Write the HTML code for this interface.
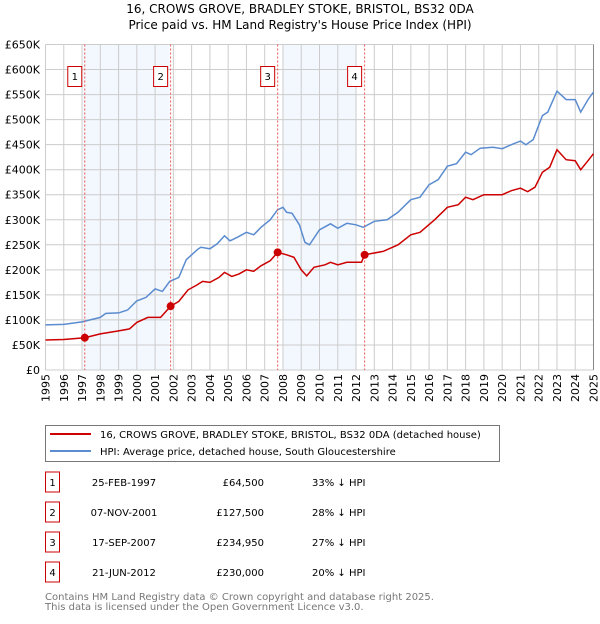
<!DOCTYPE html>
<html><head><meta charset="utf-8"><style>
body{margin:0;background:#fff;width:600px;height:620px;overflow:hidden;font-family:"DejaVu Sans","Liberation Sans",sans-serif;}
svg text{font-family:"DejaVu Sans","Liberation Sans",sans-serif;}
</style></head><body>
<svg id="c" width="600" height="620" xmlns="http://www.w3.org/2000/svg">
<text x="300" y="13" text-anchor="middle" font-size="12">16, CROWS GROVE, BRADLEY STOKE, BRISTOL, BS32 0DA</text>
<text x="300" y="29" text-anchor="middle" font-size="12">Price paid vs. HM Land Registry's House Price Index (HPI)</text>
<g id="shade"></g><g id="grid"></g><g id="axes"></g><g id="lines"></g><g id="marks"></g>
<g>
<rect x="45.5" y="425.5" width="454" height="36" fill="#fff" stroke="#777"/>
<line x1="50" y1="434" x2="91" y2="434" stroke="#cc0000" stroke-width="2"/>
<text x="100" y="438" font-size="10">16, CROWS GROVE, BRADLEY STOKE, BRISTOL, BS32 0DA (detached house)</text>
<line x1="50" y1="451" x2="91" y2="451" stroke="#5b8ccf" stroke-width="2"/>
<text x="100" y="455" font-size="10">HPI: Average price, detached house, South Gloucestershire</text>
</g>
<g id="table" font-size="10"></g>
<text x="45" y="600" font-size="10" fill="#777">Contains HM Land Registry data © Crown copyright and database right 2025.</text>
<text x="45" y="610" font-size="10" fill="#777">This data is licensed under the Open Government Licence v3.0.</text>
</svg>
<script>
const hpiYears=[1995,1996,1997,1998,1998.3,1999,1999.5,2000,2000.5,2001,2001.4,2001.8,2002.3,2002.7,2003.3,2003.5,2004,2004.4,2004.8,2005.1,2005.5,2006,2006.4,2006.8,2007.3,2007.7,2008,2008.2,2008.5,2008.9,2009.2,2009.45,2010,2010.6,2011,2011.5,2012,2012.4,2013,2013.7,2014.3,2015,2015.5,2016,2016.5,2017,2017.5,2018,2018.3,2018.8,2019.5,2020,2020.5,2021,2021.3,2021.7,2022.2,2022.5,2023,2023.5,2024,2024.3,2024.7,2025];
const hpiValues=[90,91,96,105,113,114,120,138,145,162,157,177,185,220,240,245,242,252,268,258,265,275,270,285,300,320,325,315,313,290,255,250,280,292,283,293,290,285,297,300,315,340,345,370,380,407,412,435,430,443,445,442,450,457,450,460,508,515,557,540,540,515,540,555];
const ppYears=[1995,1996,1997.15,1998,1999,1999.6,2000,2000.6,2001.3,2001.85,2002.3,2002.8,2003.3,2003.6,2004,2004.5,2004.8,2005.2,2005.6,2006,2006.4,2006.8,2007.3,2007.71,2008.2,2008.6,2009,2009.3,2009.7,2010.3,2010.6,2011,2011.5,2012.3,2012.47,2013.5,2014.3,2015,2015.5,2016.3,2017,2017.6,2018,2018.4,2019,2019.5,2020,2020.5,2021,2021.4,2021.8,2022.2,2022.6,2023,2023.5,2024,2024.3,2024.7,2025];
const ppValues=[60,61,64.5,72,78,82,95,105,105,127.5,137,160,170,177,175,185,195,187,192,200,197,208,218,234.95,230,225,200,188,205,210,215,210,215,215,230,237,250,270,275,300,325,330,345,340,350,350,350,358,363,356,365,395,405,440,420,418,400,418,432];
const saleYears=[1997.15,2001.85,2007.71,2012.47];
const saleValues=[64.5,127.5,234.95,230];
const saleLabels=["1","2","3","4"];
const saleDates=["25-FEB-1997","07-NOV-2001","17-SEP-2007","21-JUN-2012"];
const salePrices=["£64,500","£127,500","£234,950","£230,000"];
const saleDiffs=["33% ↓ HPI","28% ↓ HPI","27% ↓ HPI","20% ↓ HPI"];
const shadeSpans=[[1997.05,2001.8],[2008.0,2012.0]];
const yTicks=[0,50,100,150,200,250,300,350,400,450,500,550,600,650];
const yTickLabels=["£0","£50K","£100K","£150K","£200K","£250K","£300K","£350K","£400K","£450K","£500K","£550K","£600K","£650K"];
const xTicks=[1995,1996,1997,1998,1999,2000,2001,2002,2003,2004,2005,2006,2007,2008,2009,2010,2011,2012,2013,2014,2015,2016,2017,2018,2019,2020,2021,2022,2023,2024,2025];

const L=45.5,R=593.5,T=44.5,B=370;
const x=v=>L+(v-1995)/30*(R-L);
const y=v=>B-v/650*(B-T);
const NS="http://www.w3.org/2000/svg";
function mk(parent,tag,attrs){const e=document.createElementNS(NS,tag);for(const k in attrs)e.setAttribute(k,attrs[k]);document.getElementById(parent).appendChild(e);return e;}

shadeSpans.forEach(s=>{const r=mk('shade','rect',{x:x(s[0]),y:T,width:x(s[1])-x(s[0]),height:B-T,fill:'#eef3fd',opacity:0.7});

});
yTicks.forEach((t,i)=>{const g=mk('grid','line',{x1:L,x2:R,y1:y(t),y2:y(t),stroke:'#ccc'});


const tx=mk('axes','text',{x:40,y:y(t)+4,'text-anchor':'end','font-size':11});tx.textContent=yTickLabels[i];

});
xTicks.forEach(t=>{const g=mk('grid','line',{x1:x(t),x2:x(t),y1:T,y2:B,stroke:'#ccc'});


const tx=mk('axes','text',{transform:`translate(${x(t)+4},${B+4}) rotate(-90)`,'text-anchor':'end','font-size':11});tx.textContent=t;

});
const bl=mk('axes','line',{x1:R,x2:R,y1:T,y2:B,stroke:'#888'});



function path(xs,vs){return xs.map((v,i)=>(i?'L':'M')+x(v).toFixed(1)+','+y(vs[i]).toFixed(1)).join('');}
const hp=mk('lines','path',{d:path(hpiYears,hpiValues),fill:'none',stroke:'#5b8ccf','stroke-width':1.5});


const pp=mk('lines','path',{d:path(ppYears,ppValues),fill:'none',stroke:'#cc0000','stroke-width':1.5});



saleYears.forEach((s,i)=>{
const l=mk('marks','line',{x1:x(s),x2:x(s),y1:T,y2:B,stroke:'#e55','stroke-dasharray':'2,2','stroke-width':1});


const c=mk('marks','circle',{cx:x(s),cy:y(saleValues[i]),r:4,fill:'#cc0000'});


const b=mk('marks','rect',{x:x(s)-17,y:66.5,width:14,height:20,fill:'#fff',stroke:'#cc0000'});


const t=mk('marks','text',{x:x(s)-10,y:80,'text-anchor':'middle','font-size':10});t.textContent=saleLabels[i];


const ry=482+i*30;
const rb=mk('table','rect',{x:45.5,y:ry-10,width:14,height:20,fill:'#fff',stroke:'#cc0000'});


const rn=mk('table','text',{x:52.5,y:ry+4,'text-anchor':'middle'});rn.textContent=saleLabels[i];


const d=mk('table','text',{x:124,y:ry+4,'text-anchor':'middle'});d.textContent=saleDates[i];


const p=mk('table','text',{x:264,y:ry+4,'text-anchor':'end'});p.textContent=salePrices[i];


const df=mk('table','text',{x:312,y:ry+4});df.textContent=saleDiffs[i];


});
</script>
</body></html>
